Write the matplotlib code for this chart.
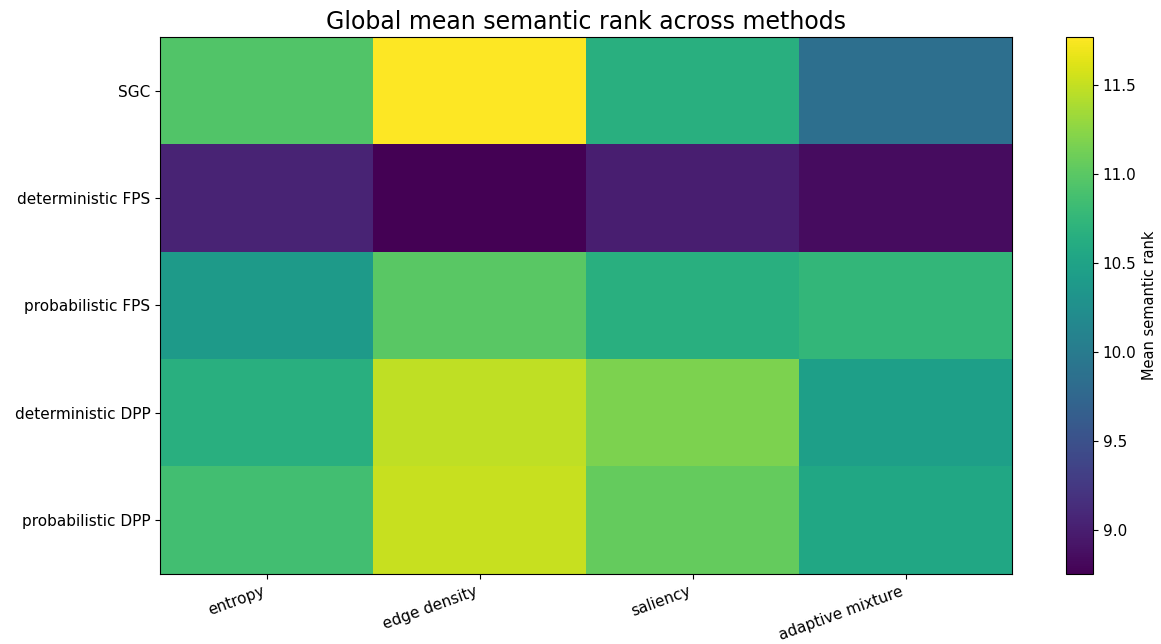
import numpy as np
import matplotlib.pyplot as plt

methods = ["SGC", "deterministic FPS", "probabilistic FPS",
           "deterministic DPP", "probabilistic DPP"]
strategies = ["entropy", "edge density", "saliency", "adaptive mixture"]

sgc = [10.95, 11.77, 10.65, 9.85]
det_fps = [9.05, 8.75, 9.00, 8.85]
prob_fps = [10.40, 11.00, 10.65, 10.75]
det_dpp = [10.65, 11.48, 11.18, 10.45]
prob_dpp = [10.85, 11.52, 11.06, 10.55]

ranks = np.array([sgc, det_fps, prob_fps, det_dpp, prob_dpp])

fig = plt.figure(figsize=(11.61, 6.44), dpi=100)
ax = fig.add_axes([160 / 1161, 1 - 574 / 644, 852 / 1161, 537 / 644])
cax = fig.add_axes([1066 / 1161, 1 - 574 / 644, 27 / 1161, 537 / 644])

im = ax.imshow(ranks, cmap="viridis", aspect="auto")
ax.set_xticks(np.arange(len(strategies)))
ax.set_xticklabels(strategies, rotation=20, ha="right")
ax.set_yticks(np.arange(len(methods)))
ax.set_yticklabels(methods)
ax.tick_params(labelsize=11)
ax.set_title("Global mean semantic rank across methods", fontsize=17)

cb = fig.colorbar(im, cax=cax)
cb.ax.tick_params(labelsize=11)
cb.set_label("Mean semantic rank", fontsize=10.5)

fig.savefig("out.png", dpi=100)
